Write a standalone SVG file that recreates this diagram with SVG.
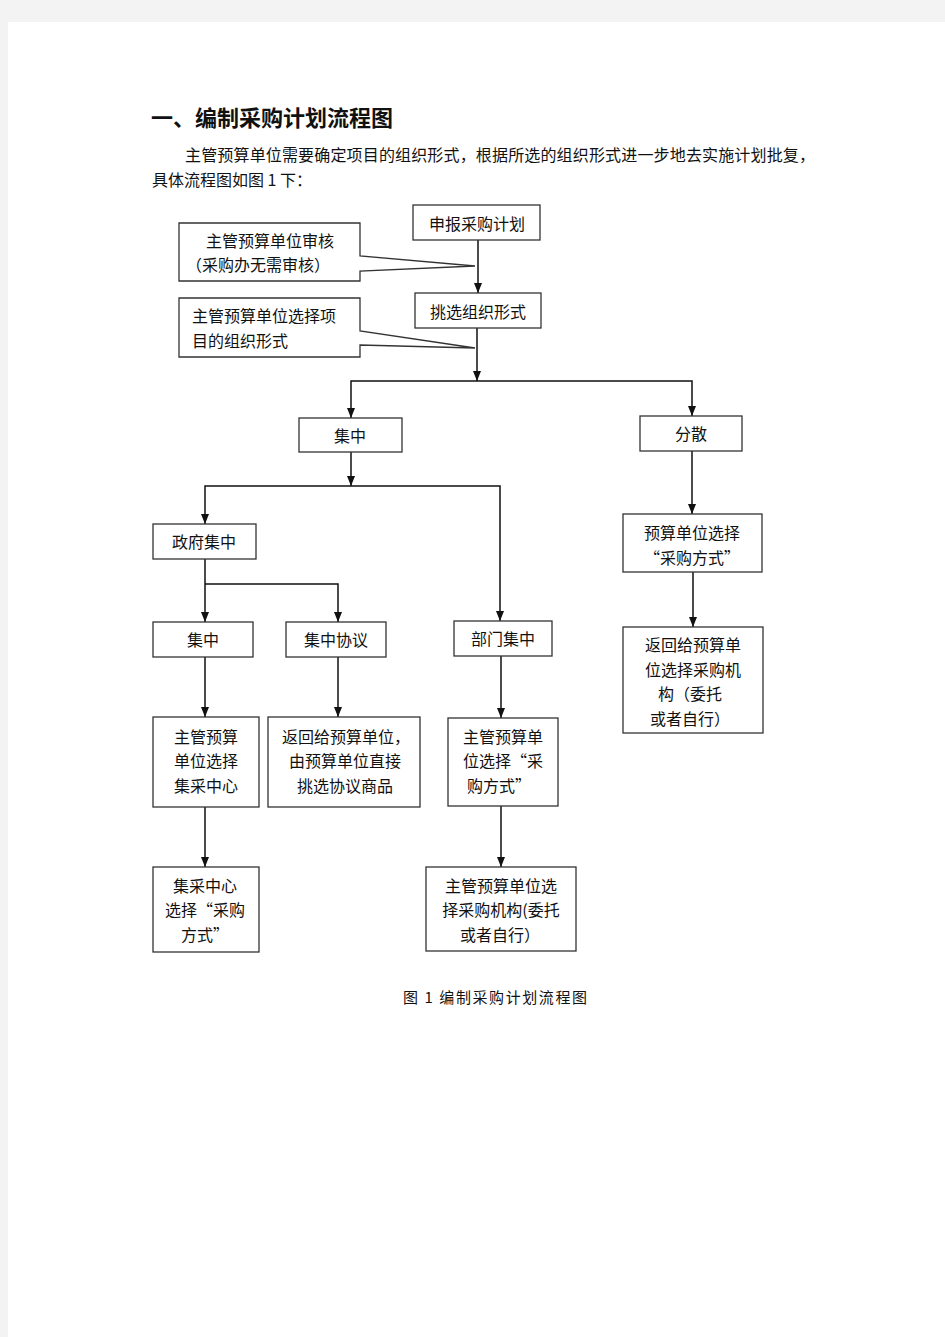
<svg xmlns="http://www.w3.org/2000/svg" width="945" height="1337" viewBox="0 0 945 1337">
<style>
text{font-family:"Noto Sans CJK SC","Liberation Sans",sans-serif;fill:#111;font-size:16px}
.c{text-anchor:middle}
.box{fill:#fff;stroke:#333;stroke-width:1.3}
.con{fill:none;stroke:#111;stroke-width:1.5}
.ar{marker-end:url(#ah)}
</style>
<defs>
<marker id="ah" viewBox="0 0 10 8" refX="10" refY="4" markerWidth="10" markerHeight="8" markerUnits="userSpaceOnUse" orient="auto">
<path d="M0,0 L10,4 L0,8 Z" fill="#111"/>
</marker>
</defs>
<rect x="0" y="0" width="945" height="1337" fill="#f3f3f3"/>
<rect x="8" y="22" width="937" height="1315" fill="#fff"/>

<text x="151" y="126" style="font-size:22px;font-weight:600">一、编制采购计划流程图</text>
<text x="185" y="161" textLength="630" lengthAdjust="spacing">主管预算单位需要确定项目的组织形式，根据所选的组织形式进一步地去实施计划批复，</text>
<text x="152" y="186">具体流程图如图 1 下：</text>

<g id="connectors">
<path class="con ar" d="M478,240 V293"/>
<path class="con ar" d="M477,328 V381"/>
<path class="con ar" d="M477,381 H351 V418"/>
<path class="con ar" d="M477,381 H692 V416"/>
<path class="con ar" d="M351,452 V486"/>
<path class="con ar" d="M351,486 H205 V524"/>
<path class="con ar" d="M351,486 H500 V621"/>
<path class="con ar" d="M205,559 V622"/>
<path class="con ar" d="M205,584 H338 V622"/>
<path class="con ar" d="M692,451 V514"/>
<path class="con ar" d="M693,572 V627"/>
<path class="con ar" d="M501,656 V718"/>
<path class="con ar" d="M205,657 V717"/>
<path class="con ar" d="M338,657 V717"/>
<path class="con ar" d="M205,807 V867"/>
<path class="con ar" d="M501,806 V867"/>
</g>

<g id="callout1">
<path class="box" d="M179,223 H360 V256 L475,266 L360,271 V281 H179 Z"/>
<text x="270" y="247" class="c">主管预算单位审核</text>
<text x="258" y="271" class="c">（采购办无需审核）</text>
</g>
<g id="callout2">
<path class="box" d="M179,298 H360 V331 L475,348 L360,345 V357 H179 Z"/>
<text x="192" y="322">主管预算单位选择项</text>
<text x="192" y="347">目的组织形式</text>
</g>

<g id="n-shenbao">
<rect class="box" x="413" y="205" width="127" height="35"/>
<text x="477" y="230" class="c">申报采购计划</text>
</g>
<g id="n-tiaoxuan">
<rect class="box" x="415" y="293" width="126" height="35"/>
<text x="478" y="318" class="c">挑选组织形式</text>
</g>
<g id="n-jizhong">
<rect class="box" x="299" y="418" width="103" height="34"/>
<text x="350" y="442" class="c">集中</text>
</g>
<g id="n-fensan">
<rect class="box" x="640" y="416" width="102" height="35"/>
<text x="691" y="440" class="c">分散</text>
</g>
<g id="n-zhengfu">
<rect class="box" x="153" y="524" width="103" height="35"/>
<text x="204" y="548" class="c">政府集中</text>
</g>
<g id="n-jizhong2">
<rect class="box" x="153" y="622" width="100" height="35"/>
<text x="203" y="646" class="c">集中</text>
</g>
<g id="n-xieyi">
<rect class="box" x="286" y="622" width="100" height="35"/>
<text x="336" y="646" class="c">集中协议</text>
</g>
<g id="n-bumen">
<rect class="box" x="454" y="621" width="98" height="35"/>
<text x="503" y="645" class="c">部门集中</text>
</g>
<g id="n-yusuan">
<rect class="box" x="623" y="514" width="139" height="58"/>
<text x="692" y="539" class="c">预算单位选择</text>
<text x="692" y="564" class="c">“采购方式”</text>
</g>
<g id="n-fanhui">
<rect class="box" x="623" y="627" width="140" height="106"/>
<text x="693" y="651" class="c">返回给预算单</text>
<text x="693" y="676" class="c">位选择采购机</text>
<text x="690" y="700" class="c">构（委托</text>
<text x="690" y="725" class="c">或者自行）</text>
</g>
<g id="n-jicai">
<rect class="box" x="153" y="717" width="106" height="90"/>
<text x="206" y="743" class="c">主管预算</text>
<text x="206" y="767" class="c">单位选择</text>
<text x="206" y="792" class="c">集采中心</text>
</g>
<g id="n-xieyishangpin">
<rect class="box" x="268" y="717" width="152" height="90"/>
<text x="282" y="743">返回给预算单位，</text>
<text x="345" y="767" class="c">由预算单位直接</text>
<text x="345" y="792" class="c">挑选协议商品</text>
</g>
<g id="n-bumenxuanze">
<rect class="box" x="448" y="718" width="110" height="88"/>
<text x="503" y="743" class="c">主管预算单</text>
<text x="503" y="767" class="c">位选择“采</text>
<text x="467" y="792">购方式”</text>
</g>
<g id="n-jicaizhongxin">
<rect class="box" x="153" y="867" width="106" height="85"/>
<text x="205" y="892" class="c">集采中心</text>
<text x="205" y="916" class="c">选择“采购</text>
<text x="181" y="941">方式”</text>
</g>
<g id="n-jigou">
<rect class="box" x="426" y="867" width="150" height="84"/>
<text x="501" y="892" class="c">主管预算单位选</text>
<text x="501" y="916" class="c">择采购机构(委托</text>
<text x="460" y="941">或者自行）</text>
</g>

<text x="403" y="1003" style="font-size:15px" textLength="184" lengthAdjust="spacing">图 1  编制采购计划流程图</text>
</svg>
